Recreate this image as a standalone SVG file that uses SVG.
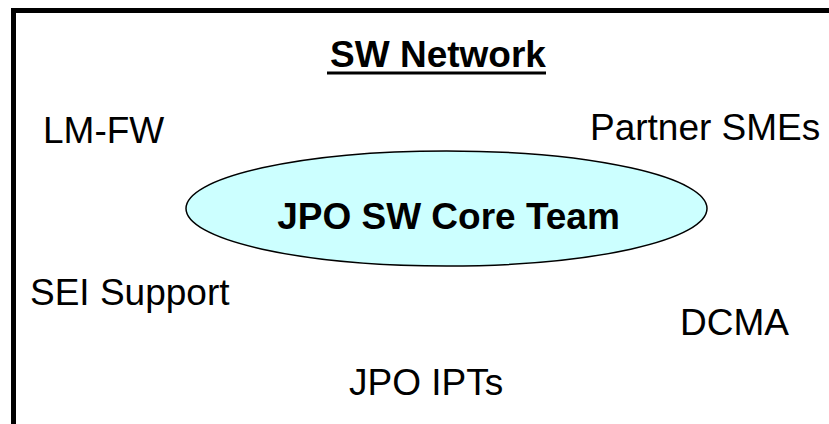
<svg xmlns="http://www.w3.org/2000/svg" width="829" height="424" viewBox="0 0 829 424">
<style>
.t{font-family:"Liberation Sans",Arial,sans-serif;font-size:37px;fill:#000}
.b{font-family:"Liberation Sans",Arial,sans-serif;font-size:37px;font-weight:bold;fill:#000}
</style>
<rect x="0" y="0" width="829" height="424" fill="#fff"/>
<rect id="frame" x="13.5" y="10.5" width="830" height="430" fill="none" stroke="#000" stroke-width="5"/>
<g id="title">
<text class="b" x="438" y="67" text-anchor="middle">SW Network</text>
<rect x="327" y="71.5" width="219" height="3" fill="#000"/>
</g>
<g id="core">
<ellipse cx="446.5" cy="208.5" rx="260.5" ry="57.5" fill="#CCFFFF" stroke="#000" stroke-width="1.5"/>
<text class="b" x="448.5" y="229" text-anchor="middle">JPO SW Core Team</text>
</g>
<g id="lmfw"><text class="t" x="43" y="143">LM-FW</text></g>
<g id="partner"><text class="t" x="590" y="140">Partner SMEs</text></g>
<g id="sei"><text class="t" x="30" y="305">SEI Support</text></g>
<g id="dcma"><text class="t" x="680" y="335">DCMA</text></g>
<g id="ipts"><text class="t" x="349" y="395">JPO IPTs</text></g>
<g id="connectors"></g>
</svg>
